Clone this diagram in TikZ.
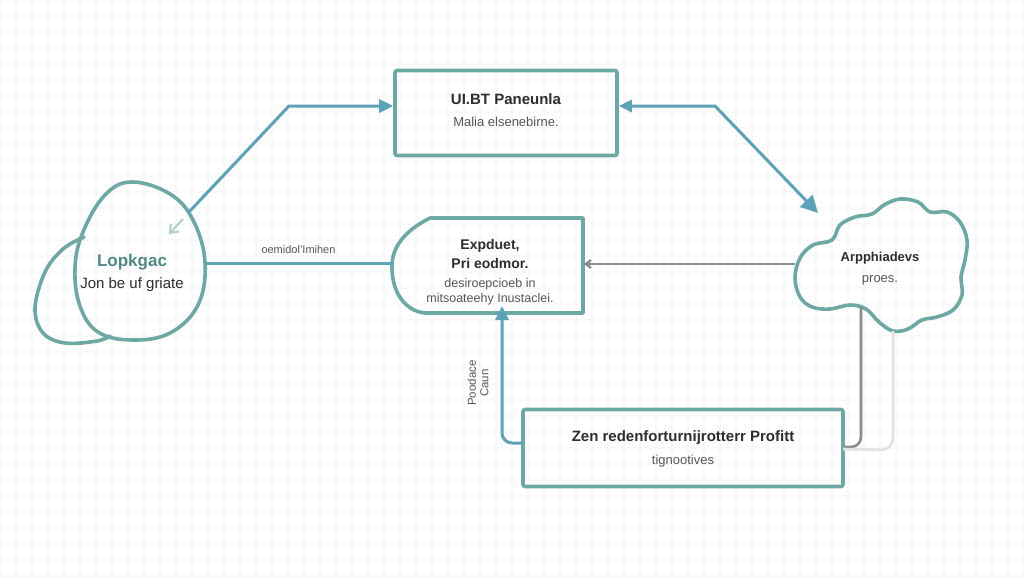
\documentclass[tikz,border=0pt]{standalone}
\usepackage{fontspec}
\setmainfont{Liberation Sans}
\usetikzlibrary{arrows.meta}
\definecolor{tealbox}{RGB}{108,168,164}
\definecolor{conblue}{RGB}{92,163,186}
\definecolor{darkgray1}{RGB}{140,140,140}
\definecolor{lightgray1}{RGB}{226,226,226}
\definecolor{eggtext}{RGB}{78,138,134}
\definecolor{txt}{RGB}{45,45,45}
\definecolor{subtxt}{RGB}{85,85,85}
\definecolor{gridc}{RGB}{248,248,248}
\tikzset{
  boxline/.style={draw=tealbox, line width=3.6pt, line join=round, line cap=round},
  plainnode/.style={inner sep=0pt, align=center},
  con/.style={draw=conblue, line width=3pt},
  tip/.style={-{Triangle[length=14pt,width=13pt]}},
  ttl/.style={font=\bfseries\fontsize{15}{18}\selectfont, text=txt},
  sub/.style={font=\fontsize{13}{16}\selectfont, text=subtxt},
}
\begin{document}
\begin{tikzpicture}[x=1pt,y=-1pt]
\useasboundingbox (0,0) rectangle (1024,576);
\fill[white] (0,0) rectangle (1024,576);
\foreach \i in {0,16,...,1024} {\draw[gridc, line width=1.6pt] (\i,0) -- (\i,576);}
\foreach \j in {0,16,...,576} {\draw[gridc, line width=1.6pt] (0,\j) -- (1024,\j);}

% top box
\node[boxline, rounded corners=2pt, plainnode, minimum width=222pt, minimum height=85pt] (top) at (506,113) {};
\node[ttl] (topt) at (506,99) {UI.BT Paneunla};
\node[sub] (tops) at (506,122) {Malia elsenebirne.};

% middle box (tag-like)
\coordinate (mid) at (488,266);
\draw[boxline] (430,218) -- (583,218) -- (583,313) -- (425,313)
  .. controls (405,311) and (391,292) .. (392,264)
  .. controls (393,243) and (410,228) .. (430,218) -- cycle;
\node[plainnode, font=\bfseries\fontsize{14}{17}\selectfont, text=txt] (midt) at (490,254) {Expduet,\\[2pt]Pri eodmor.};
\node[plainnode, font=\fontsize{12.5}{15}\selectfont, text=subtxt] (mids) at (490,292) {desiroepcioeb in\\mitsoateehy Inustaclei.};

% bottom box
\node[boxline, rounded corners=2pt, plainnode, minimum width=320pt, minimum height=77pt] (bot) at (683,448) {};
\node[ttl] (bott) at (683,438) {Zen redenforturnijrotterr Profitt};
\node[sub] (bots) at (683,461) {tignootives};

% egg
\draw[boxline] plot[smooth cycle, tension=0.65] coordinates {
  (132,182) (170,194) (193,220) (205,262) (198,305) (170,333) (132,340)
  (98,332) (80,306) (75,268) (83,232) (105,195)};
\draw[boxline] plot[smooth, tension=0.6] coordinates {
  (84,237) (63,249) (45,272) (35,308) (43,333) (65,343) (97,341) (110,336)};
\node[plainnode, font=\bfseries\fontsize{17}{20}\selectfont, text=eggtext] (egg) at (132,262) {Lopkgac};
\node[plainnode, font=\fontsize{15}{18}\selectfont, text=txt] (eggs) at (132,285) {Jon be uf griate};
\draw[draw=tealbox!55, line width=2pt, -{Straight Barb[length=7pt,width=11pt]}] (183,219) -- (169,234);

% cloud
\draw[boxline] plot[smooth cycle, tension=0.6] coordinates {
  (832,240) (840,225) (855,217) (872,214) (884,205) (900,199) (918,202) (930,212)
  (947,212) (960,222) (967,240) (965,260) (961,277) (962,295) (953,310) (937,317)
  (922,320) (908,329) (893,331) (879,322) (866,309) (850,305) (830,309)
  (812,307) (800,297) (795,278) (800,258) (813,245)};
\node[plainnode, font=\bfseries\fontsize{13}{16}\selectfont, text=txt] (cloud) at (880,258) {Arpphiadevs};
\node[plainnode, font=\fontsize{13}{16}\selectfont, text=subtxt] (clouds) at (880,280) {proes.};

% anchor coordinates
\coordinate (eggNE) at (188,213);
\coordinate (eggE) at (205,263);
\coordinate (midW) at (392,263);
\coordinate (midE) at (584,264);
\coordinate (midS) at (502,314);
\coordinate (cloudW) at (795,264);
\coordinate (cloudNW) at (818,213);
\coordinate (cloudS1) at (861,307);
\coordinate (cloudS2) at (893,331);
\coordinate (botW) at (523,443);
\coordinate (botE1) at (843,447);
\coordinate (botE2) at (843,449);

% connectors
\draw[con, tip] (eggNE) -- (289,106) -- (top.west |- 0,106);
\draw[con, {Triangle[length=13pt,width=12pt]}-{Triangle[length=17pt,width=17pt]}] (top.east |- 0,106) -- (715,106) -- (cloudNW);
\draw[con] (eggE) -- node[above=5pt, font=\fontsize{11}{13}\selectfont, text=subtxt] (lbl1) {oemidol'Imihen} (midW);
\draw[draw=darkgray1, line width=2.4pt, -{Straight Barb[length=5pt,width=8pt]}] (cloudW) -- (midE);
\draw[con, tip, rounded corners=10pt] (botW) -- (502,443) -- ([yshift=8pt]midS);
\node[plainnode, rotate=90, font=\fontsize{11.5}{12.5}\selectfont, text=subtxt] (lbl2) at (478,383) {Poodace\\Caun};
\draw[draw=darkgray1, line width=2.6pt, rounded corners=10pt] (cloudS1) -- (861,447) -- (botE1);
\draw[draw=lightgray1, line width=2.6pt, rounded corners=12pt] (cloudS2) -- (893,450) -- (botE2);
\end{tikzpicture}
\end{document}
